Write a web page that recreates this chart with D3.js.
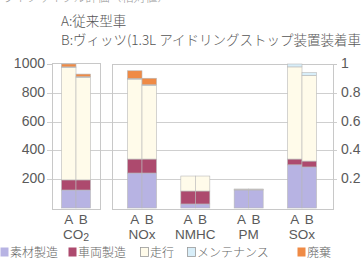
<!doctype html>
<html>
<head>
  <meta charset="utf-8">
  <title>LCA比較</title>
  <script src="https://d3js.org/d3.v7.min.js"></script>
  <style>
  html, body { margin: 0; padding: 0; background: #fff; }
  #vis { width: 361px; height: 272px; overflow: hidden; }
  text { font-family: "Noto Sans CJK JP", "Noto Sans", sans-serif; fill: #555; font-weight: 300; }
  text.num { font-family: "Liberation Sans", Arial, sans-serif; font-weight: 400; fill: #5a5a5a; }
  </style>
</head>
<body>
  <div id="vis"></div>
  <script>
  var width = 361;
  var height = 272;

  // data
  var categories = ['CO2', 'NOx', 'NMHC', 'PM', 'SOx'];
  var variants = ['A', 'B'];
  // one pair [A, B] per category; CO2 on the left axis (0-1000), others relative (0-1)
  var material    = [[125, 125], [0.243, 0.243], [0.028, 0.028], [0.125, 0.125], [0.300, 0.285]];
  var vehicle     = [[70, 70],   [0.097, 0.097], [0.090, 0.090], [0.005, 0.005], [0.040, 0.041]];
  var running     = [[780, 712], [0.555, 0.511], [0.104, 0.104], [0.002, 0.002], [0.640, 0.595]];
  var maintenance = [[5, 5],     [0.005, 0.005], [0, 0],         [0, 0],         [0.020, 0.019]];
  var disposal    = [[20, 18],   [0.053, 0.045], [0, 0],         [0, 0],         [0, 0]];
  var leftTicks = [200, 400, 600, 800, 1000];
  var rightTicks = [0.2, 0.4, 0.6, 0.8, 1];
  var seriesNames = ['素材製造', '車両製造', '走行', 'メンテナンス', '廃棄'];

  var seriesKeys = ['material', 'vehicle', 'running', 'maintenance', 'disposal'];
  var seriesData = { material: material, vehicle: vehicle, running: running, maintenance: maintenance, disposal: disposal };
  var colors = {
    material: '#b7b3e3',
    vehicle: '#ad4a6e',
    running: '#fffbea',
    maintenance: '#d8eef9',
    disposal: '#ef8a45'
  };

  var rows = [];
  categories.forEach(function(c, i){
    variants.forEach(function(v, j){
      var row = { cat: c, variant: v };
      seriesKeys.forEach(function(k){ row[k] = seriesData[k][i][j]; });
      rows.push(row);
    });
  });

  var stacked = d3.stack().keys(seriesKeys)(rows);

  var svg = d3.select('#vis').append('svg')
    .attr('width', width)
    .attr('height', height);

  var yL = d3.scaleLinear().domain([0, 1000]).range([208, 64]);
  var yR = d3.scaleLinear().domain([0, 1]).range([208, 64]);

  var xGroup = d3.scalePoint().domain(categories.slice(1)).range([142, 302]);
  function groupCenter(c){ return c === 'CO2' ? 76 : xGroup(c); }
  var xSub = d3.scaleBand().domain(variants).range([-14.5, 14.5]);
  function yFor(c){ return c === 'CO2' ? yL : yR; }

  // title lines
  svg.append('text').attr('x', 2).attr('y', 2).attr('font-size', 12).style('fill', '#999')
    .text('ライフサイクル評価（相対値）');
  svg.append('text').attr('x', 61).attr('y', 26).attr('font-size', 13.5).text('A:従来型車');
  svg.append('text').attr('x', 61).attr('y', 45).attr('font-size', 13.5)
    .text('B:ヴィッツ(1.3L アイドリングストップ装置装着車)');

  // gridlines
  svg.append('g').selectAll('line').data(leftTicks.slice(0, 4)).enter().append('line')
    .attr('x1', 47).attr('x2', 337)
    .attr('y1', function(d){ return Math.round(yL(d)) + 0.5; })
    .attr('y2', function(d){ return Math.round(yL(d)) + 0.5; })
    .attr('stroke', '#cfcfcf');

  // panels
  svg.append('rect').attr('x', 52.5).attr('y', 63.5).attr('width', 48).attr('height', 146)
    .attr('fill', 'none').attr('stroke', '#c8c8c8');
  svg.append('rect').attr('x', 112.5).attr('y', 64.5).attr('width', 221).attr('height', 145)
    .attr('fill', 'none').attr('stroke', '#c8c8c8');
  svg.append('line').attr('x1', 47).attr('x2', 52).attr('y1', 64.5).attr('y2', 64.5).attr('stroke', '#c8c8c8');
  svg.append('line').attr('x1', 333).attr('x2', 337).attr('y1', 64.5).attr('y2', 64.5).attr('stroke', '#c8c8c8');

  // bars
  svg.append('g').selectAll('g').data(stacked).enter().append('g')
    .attr('fill', function(d){ return colors[d.key]; })
    .selectAll('rect').data(function(d){ return d; }).enter().append('rect')
      .attr('x', function(d){ return groupCenter(d.data.cat) + xSub(d.data.variant); })
      .attr('width', xSub.bandwidth())
      .attr('y', function(d){ return yFor(d.data.cat)(d[1]); })
      .attr('height', function(d){ var y = yFor(d.data.cat); return Math.max(0, y(d[0]) - y(d[1])); })
      .attr('stroke', '#b8b8b8')
      .attr('stroke-width', 0.6);

  // left axis labels
  svg.append('g').selectAll('text').data(leftTicks).enter().append('text')
    .attr('class', 'num')
    .attr('x', 45).attr('y', function(d){ return yL(d) - 1; })
    .attr('dy', '0.35em').attr('text-anchor', 'end').attr('font-size', 14)
    .text(function(d){ return d; });

  // right axis labels
  svg.append('g').selectAll('text').data(rightTicks).enter().append('text')
    .attr('class', 'num')
    .attr('x', 341).attr('y', function(d){ return yR(d) - 1; })
    .attr('dy', '0.35em').attr('font-size', 14)
    .text(function(d){ return d; });

  // A / B labels
  svg.append('g').selectAll('text').data(rows).enter().append('text')
    .attr('class', 'num')
    .attr('x', function(d){ return groupCenter(d.cat) + xSub(d.variant) + xSub.bandwidth() / 2; })
    .attr('y', 219).attr('dy', '0.35em').attr('text-anchor', 'middle').attr('font-size', 13.5)
    .text(function(d){ return d.variant; });

  // category labels
  var catText = svg.append('g').selectAll('text').data(categories).enter().append('text')
    .attr('class', 'num')
    .attr('x', function(d){ return groupCenter(d); })
    .attr('y', 234.5).attr('dy', '0.35em').attr('text-anchor', 'middle').attr('font-size', 13.5);
  catText.each(function(d){
    var t = d3.select(this);
    if(d === 'CO2'){
      t.append('tspan').text('CO');
      t.append('tspan').attr('font-size', 10.5).attr('dy', 1.5).text('2');
    } else {
      t.text(d);
    }
  });

  // legend
  var legendX = [0, 68, 140, 187, 297];
  var legend = svg.append('g').selectAll('g').data(seriesKeys).enter().append('g')
    .attr('transform', function(d, i){ return 'translate(' + legendX[i] + ',247)'; });
  legend.append('rect').attr('x', 0.5).attr('y', 0.5).attr('width', 8).attr('height', 9)
    .attr('fill', function(d){ return colors[d]; })
    .attr('stroke', function(d){ return d === 'running' || d === 'maintenance' ? '#999' : 'none'; })
    .attr('stroke-width', 0.8);
  legend.append('text').attr('x', 10).attr('y', 5.5).attr('dy', '0.35em').attr('font-size', 12)
    .style('fill', '#666')
    .text(function(d, i){ return seriesNames[i]; });
  </script>
</body>
</html>
